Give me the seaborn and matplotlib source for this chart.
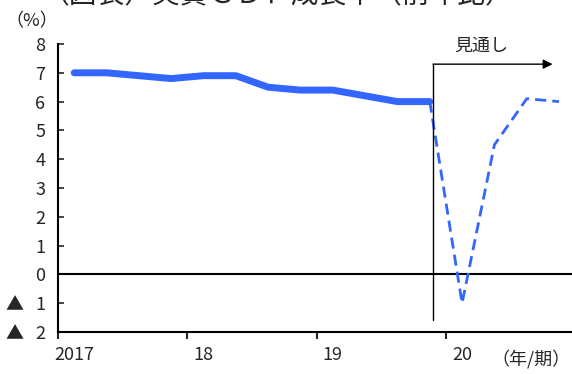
import matplotlib.pyplot as plt
import pandas as pd
import seaborn as sns

# Quarterly real GDP growth (y/y, %), actual and outlook
QUARTERS = [f"{y}Q{q}" for y in range(2017, 2021) for q in range(1, 5)]
ACTUAL = [7.0, 7.0, 6.9, 6.8, 6.9, 6.9, 6.5, 6.4, 6.4, 6.2, 6.0, 6.0]
FORECAST = [6.0, -1.0, 4.5, 6.1, 6.0]  # 2019Q4 .. 2020Q4
YEAR_LABELS = ["2017", "18", "19", "20"]
Y_TICKS = list(range(-2, 9))
Y_LABELS = ["▲   2", "▲   1"] + [str(v) for v in range(0, 9)]

BLUE = "#3366FF"

sns.set_style("white")
plt.rcParams["font.family"] = ["Noto Sans CJK JP", "DejaVu Sans"]

act = pd.DataFrame({"quarter": QUARTERS[: len(ACTUAL)], "value": ACTUAL})
act["pos"] = range(len(act))
fc = pd.DataFrame({"quarter": QUARTERS[len(ACTUAL) - 1:], "value": FORECAST})
fc["pos"] = range(len(ACTUAL) - 1, len(QUARTERS))

fig = plt.figure(figsize=(5.72, 3.74), dpi=100)
ax = fig.add_axes([58 / 572, 1 - 332 / 374, 514 / 572, 288 / 374])

sns.lineplot(data=fc, x="pos", y="value", color=BLUE, linewidth=2,
             linestyle=(0, (4, 2.2)), ax=ax)
sns.lineplot(data=act, x="pos", y="value", color=BLUE, linewidth=5,
             solid_capstyle="round", ax=ax)

ax.axhline(0, color="black", linewidth=1.5, zorder=1)

ax.set_xlim(-0.5, 15.4)
ax.set_ylim(-2, 8)
ax.set_xlabel("")
ax.set_ylabel("")

ax.set_yticks(Y_TICKS)
ax.set_yticklabels(Y_LABELS, fontsize=13)
ax.tick_params(axis="y", direction="in", length=4, width=1.2, pad=9, left=True)

year_pos = [i for i, q in enumerate(QUARTERS) if q.endswith("Q1")]
ax.set_xticks([p - 0.5 for p in year_pos])
ax.set_xticklabels([])
ax.set_xticks(year_pos, minor=True)
ax.set_xticklabels(YEAR_LABELS, minor=True, fontsize=13)
ax.tick_params(axis="x", which="major", direction="out", length=5, width=1.5, bottom=True)
ax.tick_params(axis="x", which="minor", length=0, pad=10)

ax.spines[["top", "right"]].set_visible(False)
for side in ["left", "bottom"]:
    ax.spines[side].set_linewidth(1.5)
    ax.spines[side].set_color("black")

# outlook marker
split = 11.1
ax.plot([split, split], [-1.6, 7.3], color="black", linewidth=1, clip_on=False)
ax.annotate("", xy=(14.8, 7.3), xytext=(split, 7.3),
            arrowprops=dict(arrowstyle="-|>", color="black", lw=1, mutation_scale=14,
                            shrinkA=0, shrinkB=0))
ax.text(12.6, 7.93, "見通し", fontsize=13, ha="center", va="center")

fig.text(5 / 572, 1 - 21 / 374, "（%）", fontsize=13, ha="left", va="center")
fig.text(571 / 572, 1 - 359 / 374, "（年/期）", fontsize=13, ha="right", va="center")
fig.text(0.485, 0.992, "（図表）実質ＧＤＰ成長率（前年比）", fontsize=20,
         ha="center", va="baseline")

fig.savefig("out.png", dpi=100, facecolor="white")
